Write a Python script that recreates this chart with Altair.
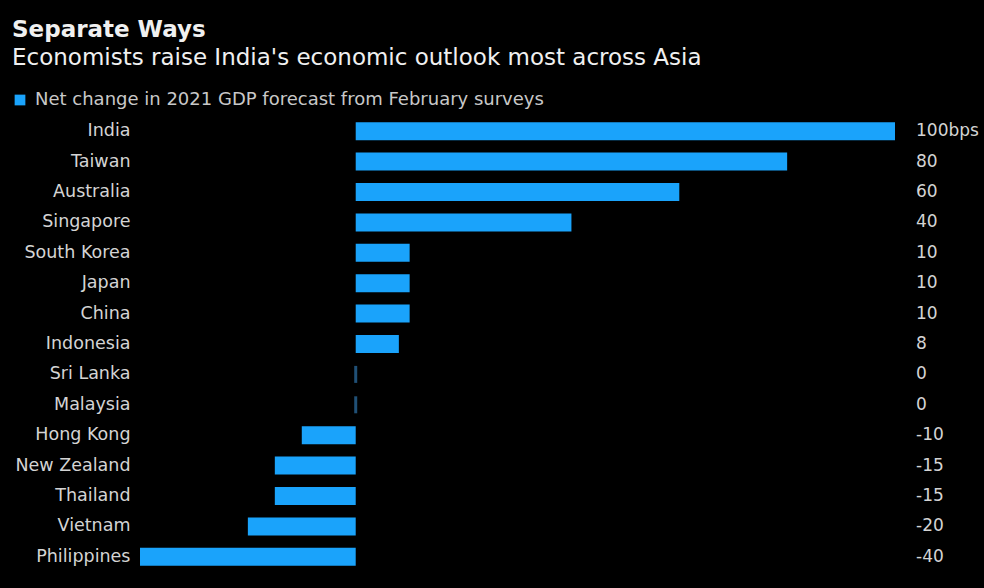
import altair as alt
import pandas as pd

countries = ["India", "Taiwan", "Australia", "Singapore", "South Korea", "Japan", "China",
             "Indonesia", "Sri Lanka", "Malaysia", "Hong Kong", "New Zealand", "Thailand",
             "Vietnam", "Philippines"]
values = [100, 80, 60, 40, 10, 10, 10, 8, 0, 0, -10, -15, -15, -20, -40]
value_labels = ["100bps", "80", "60", "40", "10", "10", "10", "8", "0", "0", "-10", "-15",
                "-15", "-20", "-40"]
series_name = "Net change in 2021 GDP forecast from February surveys"

df = pd.DataFrame({"country": countries, "value": values, "label": value_labels,
                   "series": [series_name] * len(countries)})

W, H = 755, 456
FONT = "DejaVu Sans"
BLUE = "#1aa3fb"

y_enc = alt.Y("country:N", sort=countries, title=None,
              scale=alt.Scale(paddingInner=0.4, paddingOuter=0.2),
              axis=alt.Axis(domain=False, ticks=False, labelPadding=10, labelFontSize=17.5,
                            labelColor="#d4d4d4", labelFont=FONT, grid=False))

base = alt.Chart(df)

bars = base.transform_filter("datum.value != 0").mark_bar(size=18).encode(
    x=alt.X("value:Q", scale=alt.Scale(domain=[-40, 100], nice=False, zero=True), axis=None),
    x2=alt.datum(0),
    y=y_enc,
    color=alt.Color("series:N", scale=alt.Scale(range=[BLUE]),
                    legend=alt.Legend(title=None, orient="none", legendX=-129, legendY=-25,
                                      symbolType="square", symbolSize=115, symbolStrokeWidth=0,
                                      labelFontSize=18, labelColor="#c8c8c8", labelFont=FONT,
                                      labelOffset=6, labelLimit=700)),
)

zeros = base.transform_filter("datum.value == 0").mark_tick(
    thickness=3, size=17, color="#2d72a8").encode(
    x=alt.X("value:Q"),
    y=alt.Y("country:N", sort=countries),
)

labels = base.mark_text(align="left", baseline="middle", fontSize=17, color="#d4d4d4",
                        font=FONT).encode(
    x=alt.value(W + 21),
    y=alt.Y("country:N", sort=countries),
    text="label:N",
)

chart = alt.layer(bars, zeros, labels).properties(
    width=W, height=H,
    title=alt.TitleParams(
        text="Separate Ways",
        subtitle="Economists raise India's economic outlook most across Asia",
        anchor="start", frame="group", dx=-128, offset=21,
        font=FONT, fontSize=23, fontWeight="bold", color="#f0f0f0",
        subtitleFont=FONT, subtitleFontSize=23, subtitleColor="#f0f0f0", subtitlePadding=5,
    ),
    autosize=alt.AutoSizeParams(type="none"),
    padding={"left": 140, "top": 116, "right": 89, "bottom": 16},
    background="black",
).configure_view(stroke=None)

chart.save("out.html", embed_options={"renderer": "svg", "actions": False})
